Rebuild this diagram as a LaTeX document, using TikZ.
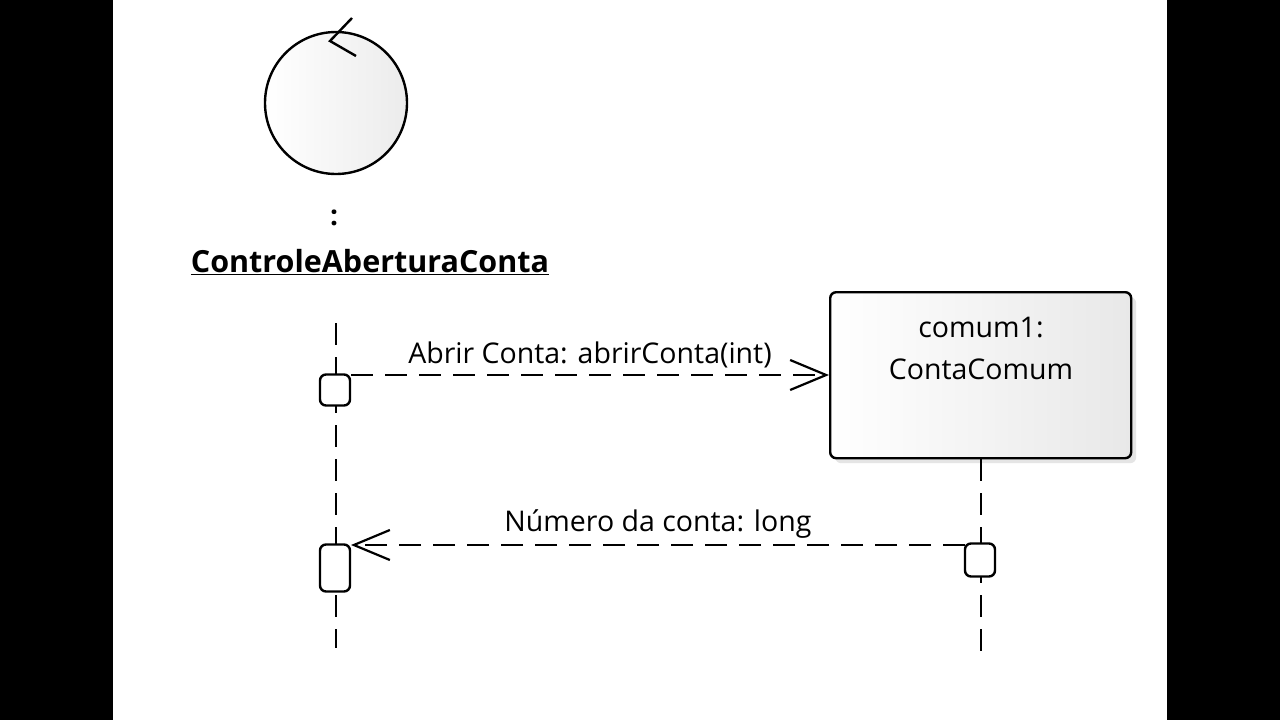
\documentclass[tikz,border=0pt]{standalone}
\usepackage{fontspec}
\setmainfont{Open Sans}
\usetikzlibrary{arrows.meta,shadows}
\begin{document}
\begin{tikzpicture}[x=1pt,y=-1pt,
  dsh/.style={line width=2.4pt,dash pattern=on 22pt off 12pt},
  act/.style={draw,line width=2.4pt,fill=white,rounded corners=6pt,minimum width=30pt,inner sep=0pt},
  msg/.style={dsh,-{Straight Barb[length=36pt,width=30pt,line width=2.2pt]}},
  lbl/.style={font=\fontsize{28.5}{42}\selectfont}]
\fill[black] (0,0) rectangle (1280,720);
\fill[white] (113,0) rectangle (1167,720);
% control
\node[circle,draw,line width=2.4pt,minimum size=142pt,inner sep=0pt,left color=white,right color=gray!15] (ctl) at (336,103) {};
\draw[line width=2.4pt] (352,18) -- (330,41) -- (356,56);
\node[font=\bfseries\fontsize{28}{30}\selectfont] (colon) at (334,218) {:};
\node[font=\bfseries\fontsize{30.5}{30}\selectfont] (cname) at (370,262) {\underline{ControleAberturaConta}};
% object
\node[draw,line width=2.4pt,rounded corners=6pt,minimum width=301pt,minimum height=166pt,anchor=north west,
  left color=white,right color=gray!18,drop shadow={shadow xshift=5pt,shadow yshift=-5pt,fill=gray!40}] (obj) at (829,291) {};
\node[lbl,align=center] (oname) at (981,348) {comum1:\\ContaComum};
% lifelines
\coordinate (l1t) at (336,323); \coordinate (l1b) at (336,648);
\coordinate (l2b) at (981,660);
\draw[dsh] (l1t) -- (l1b);
\draw[dsh] (obj.south -| 981,0) -- (l2b);
\node[act,minimum height=31pt] (a1) at (335,390) {};
\node[act,minimum height=47pt] (a2) at (335,568) {};
\node[act,minimum height=33pt] (a3) at (980,560) {};
% messages
\coordinate (m1s) at (351,375); \coordinate (m2e) at (351,545); \coordinate (m2s) at (965,545);
\draw[msg] (m1s) -- (m1s -| obj.west) node[midway,above=2pt,lbl] {Abrir Conta: abrirConta(int)};
\draw[msg] (m2s) -- (m2e) node[midway,above=2pt,lbl] {Número da conta: long};
\end{tikzpicture}
\end{document}
